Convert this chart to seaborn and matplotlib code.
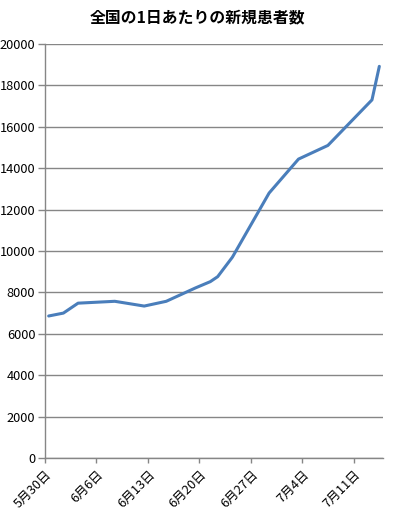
import matplotlib
matplotlib.use("Agg")
import matplotlib.pyplot as plt
import matplotlib.transforms as mtransforms
import seaborn as sns
import pandas as pd
import numpy as np

dates = ["2020-05-30", "2020-06-01", "2020-06-03", "2020-06-08", "2020-06-12",
         "2020-06-15", "2020-06-19", "2020-06-21", "2020-06-22", "2020-06-24",
         "2020-06-29", "2020-07-03", "2020-07-07", "2020-07-13", "2020-07-14"]
cases = [6860, 7000, 7480, 7570, 7340, 7570, 8220, 8520, 8760, 9700,
         12800, 14440, 15100, 17300, 18920]
tick_labels = ["5月30日", "6月6日", "6月13日", "6月20日", "6月27日", "7月4日", "7月11日"]
yticks = list(range(0, 20001, 2000))
title = "全国の1日あたりの新規患者数"

df = pd.DataFrame({"date": pd.to_datetime(dates), "cases": cases})

sns.set_style("white")
plt.rcParams["font.family"] = ["Noto Sans CJK JP", "DejaVu Sans"]

fig = plt.figure(figsize=(3.99, 5.16), dpi=100)
ax = fig.add_axes([45/399, 1-458/516, (383-45)/399, (458-44)/516])

sns.lineplot(data=df, x="date", y="cases", ax=ax, color="#4A7EBB", linewidth=2.2)

half = pd.Timedelta(hours=12)
start = df["date"].iloc[0] - half
tick_pos = [start + pd.Timedelta(days=7*i) for i in range(len(tick_labels))]
ax.set_xlim(start, df["date"].iloc[-1] + half)
ax.set_xticks(tick_pos)
ax.set_xticklabels(tick_labels, rotation=45, ha="right", va="center",
                   rotation_mode="anchor", fontsize=9.2, color="black")
ax.set_ylim(0, 20000)
ax.set_yticks(yticks)
ax.set_yticklabels([str(v) for v in yticks], fontsize=9.2, color="black")

ax.yaxis.grid(True, color="#868686", linewidth=1.0)
ax.xaxis.grid(False)
for s in ["top", "right"]:
    ax.spines[s].set_visible(False)
for s in ["left", "bottom"]:
    ax.spines[s].set_color("#868686")
    ax.spines[s].set_linewidth(1.0)
ax.tick_params(axis="y", direction="out", length=5, width=1,
               color="#868686", labelcolor="black", left=True, pad=2)
ax.tick_params(axis="x", direction="out", length=3.6, width=1,
               color="#868686", labelcolor="black", bottom=True, pad=7)
offset = mtransforms.ScaledTranslation(5/100, 0, fig.dpi_scale_trans)
for lbl in ax.get_xticklabels():
    lbl.set_transform(lbl.get_transform() + offset)
ax.set_xlabel("")
ax.set_ylabel("")

fig.text(0.495, 1-17/516, title, ha="center", va="center", fontsize=11.4,
         fontweight="bold", color="black")

fig.savefig("out.png", dpi=100)
